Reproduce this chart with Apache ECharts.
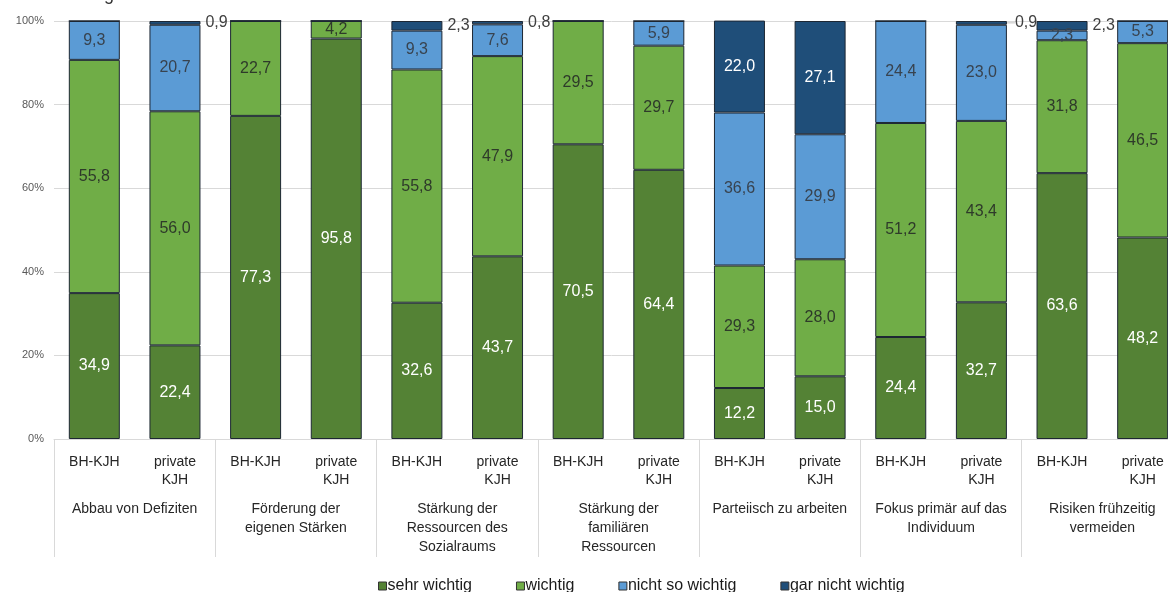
<!DOCTYPE html>
<html>
<head>
<meta charset="utf-8">
<script src="https://cdn.jsdelivr.net/npm/echarts@6/dist/echarts.min.js"></script>
<style>
  html, body { margin: 0; padding: 0; background: #fff; }
  #chart { width: 1168px; height: 592px; }
</style>
</head>
<body>
<div id="chart"></div>
<script>
const barLabels = [
    "BH-KJH", "private\nKJH", "BH-KJH", "private\nKJH", "BH-KJH", "private\nKJH",
    "BH-KJH", "private\nKJH", "BH-KJH", "private\nKJH", "BH-KJH", "private\nKJH",
    "BH-KJH", "private\nKJH"
];
const groupLabels = [
    "Abbau von Defiziten",
    "Förderung der\neigenen Stärken",
    "Stärkung der\nRessourcen des\nSozialraums",
    "Stärkung der\nfamiliären\nRessourcen",
    "Parteiisch zu arbeiten",
    "Fokus primär auf das\nIndividuum",
    "Risiken frühzeitig\nvermeiden"
];
const seriesNames = ["sehr wichtig", "wichtig", "nicht so wichtig", "gar nicht wichtig"];

const sehrWichtig = [34.9, 22.4, 77.3, 95.8, 32.6, 43.7, 70.5, 64.4, 12.2, 15.0, 24.4, 32.7, 63.6, 48.2];
const wichtig     = [55.8, 56.0, 22.7, 4.2, 55.8, 47.9, 29.5, 29.7, 29.3, 28.0, 51.2, 43.4, 31.8, 46.5];
const nichtSo     = [9.3, 20.7, 0, 0, 9.3, 7.6, 0, 5.9, 36.6, 29.9, 24.4, 23.0, 2.3, 5.3];
const garNicht    = [0, 0.9, 0, 0, 2.3, 0.8, 0, 0, 22.0, 27.1, 0, 0.9, 2.3, 0];

const colors = ["#548235", "#70ad47", "#5b9bd5", "#1f4e79"];
const labelColors = ["#ffffff", "#2e3a2a", "#38434f", "#ffffff"];

const fmt = v => (v ? v.toFixed(1).replace(".", ",") : "");

function buildSeries(name, values, idx) {
    const s = {
        name: name,
        type: "bar",
        stack: "total",
        barWidth: 51,
        itemStyle: { color: colors[idx], borderColor: "#1d2733", borderWidth: 1 },
        label: {
            show: true,
            position: "inside",
            color: labelColors[idx],
            fontSize: 16,
            fontFamily: "Liberation Sans",
            formatter: p => fmt(p.value)
        },
        data: values.map((v, i) => {
            // tiny "gar nicht wichtig" values sit outside, top right of the bar
            if (idx === 3 && v > 0 && v < 3) {
                return {
                    value: v,
                    label: { position: "right", offset: [-2, -11], color: "#404040" },
                    labelLine: { show: i === 11, lineStyle: { color: "#bfbfbf" } }
                };
            }
            return v;
        })
    };
    if (idx === 3) {
        s.labelLine = { show: false };
        s.labelLayout = p => (p.dataIndex === 11 ? { dx: 3 } : {});
    }
    return s;
}

const chart = echarts.init(document.getElementById("chart"));

chart.setOption({
    backgroundColor: "#fff",
    animation: false,
    textStyle: { fontFamily: "Liberation Sans" },
    title: {
        text: "g",
        left: 99,
        top: -19,
        textStyle: { fontSize: 18, fontWeight: "normal", color: "#333" }
    },
    grid: { left: 54, width: 1129, top: 21, bottom: 153, outerBoundsMode: "none", containLabel: false },
    legend: {
        bottom: -7,
        left: 373,
        itemWidth: 8,
        itemHeight: 8,
        itemGap: 44,
        icon: "rect",
        textStyle: { fontSize: 16, color: "#1a1a1a", padding: [0, 0, 0, -4] },
        itemStyle: { borderColor: "#333", borderWidth: 1 },
        data: seriesNames
    },
    xAxis: [
        {
            type: "category",
            data: barLabels,
            axisLine: { lineStyle: { color: "#d9d9d9" } },
            axisTick: { show: false },
            axisLabel: {
                interval: 0,
                margin: 14,
                fontSize: 14,
                lineHeight: 18,
                align: "center",
                color: "#262626"
            }
        },
        {
            type: "category",
            data: groupLabels,
            position: "bottom",
            axisLine: { show: false },
            axisTick: {
                show: true,
                interval: 0,
                length: 118,
                lineStyle: { color: "#d9d9d9" }
            },
            axisLabel: {
                interval: 0,
                margin: 61,
                fontSize: 14,
                lineHeight: 19,
                color: "#262626"
            }
        }
    ],
    yAxis: {
        type: "value",
        min: 0,
        max: 100,
        interval: 20,
        axisLine: { show: false },
        axisTick: { show: false },
        axisLabel: { formatter: "{value}%", fontSize: 11, color: "#595959", margin: 10 },
        splitLine: { lineStyle: { color: "#d9d9d9" } }
    },
    series: [
        buildSeries(seriesNames[0], sehrWichtig, 0),
        buildSeries(seriesNames[1], wichtig, 1),
        buildSeries(seriesNames[2], nichtSo, 2),
        buildSeries(seriesNames[3], garNicht, 3)
    ]
});
</script>
</body>
</html>
